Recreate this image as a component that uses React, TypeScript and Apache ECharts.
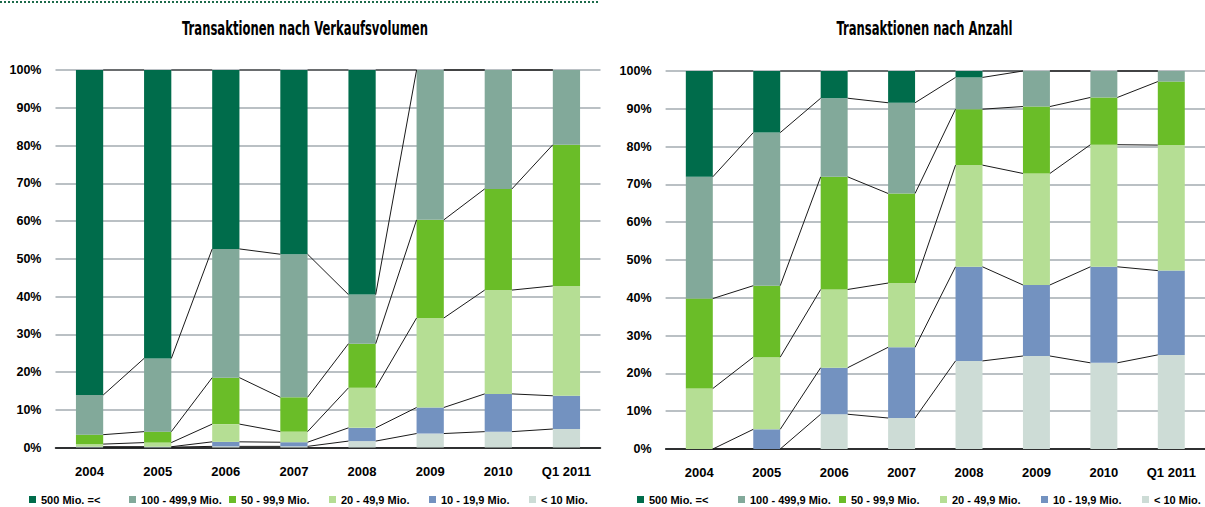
import React, { useEffect, useRef } from "react";
import * as echarts from "echarts";

// Categories and size classes
const years = ["2004", "2005", "2006", "2007", "2008", "2009", "2010", "Q1 2011"];
const classNames = [
  "500 Mio. =<",
  "100 - 499,9 Mio.",
  "50 - 99,9 Mio.",
  "20 - 49,9 Mio.",
  "10 - 19,9 Mio.",
  "< 10 Mio.",
];
const classColors = ["#006c4b", "#82a99a", "#6abd28", "#b5de94", "#7392c0", "#cddcd6"];
const yTicks = [0, 10, 20, 30, 40, 50, 60, 70, 80, 90, 100];

// Share of transaction volume per size class (%)
const vol500plus = [86.1, 76.4, 47.4, 48.8, 59.5, 0, 0, 0];
const vol100to499 = [10.5, 19.4, 34.1, 37.9, 13.0, 39.7, 31.5, 19.8];
const vol50to99 = [2.5, 2.9, 12.3, 9.1, 11.7, 26.0, 26.8, 37.4];
const vol20to49 = [0.7, 1.1, 4.7, 2.8, 10.6, 23.7, 27.5, 29.1];
const vol10to19 = [0.1, 0.1, 1.2, 1.1, 3.5, 6.9, 10.0, 8.8];
const volUnder10 = [0.1, 0.1, 0.3, 0.3, 1.7, 3.7, 4.2, 4.9];

// Share of number of transactions per size class (%)
const cnt500plus = [28.0, 16.3, 7.2, 8.4, 1.7, 0, 0, 0];
const cnt100to499 = [32.2, 40.5, 20.8, 24.0, 8.4, 9.4, 7.0, 2.8];
const cnt50to99 = [23.8, 18.9, 29.8, 23.7, 14.8, 17.7, 12.5, 16.8];
const cnt20to49 = [16.0, 19.1, 20.7, 17.0, 26.9, 29.5, 32.3, 33.2];
const cnt10to19 = [0, 5.2, 12.3, 18.7, 24.9, 18.8, 25.4, 22.3];
const cntUnder10 = [0, 0, 9.2, 8.2, 23.3, 24.6, 22.8, 24.9];

const FONT = "'Liberation Sans', Arial, sans-serif";
const TITLE_FONT = "'DejaVu Sans Condensed', 'DejaVu Sans', sans-serif";

// stacking order: bottom -> top
const volumeStack = [volUnder10, vol10to19, vol20to49, vol50to99, vol100to499, vol500plus];
const countStack = [cntUnder10, cnt10to19, cnt20to49, cnt50to99, cnt100to499, cnt500plus];

function barSeries(stack: number[][], gridIdx: number) {
  return stack.map((values, k) => {
    const cls = classNames.length - 1 - k;
    return {
      type: "bar",
      name: classNames[cls],
      xAxisIndex: gridIdx,
      yAxisIndex: gridIdx,
      stack: "s" + gridIdx,
      barWidth: "40%",
      itemStyle: { color: classColors[cls] },
      data: values,
      z: 2,
    };
  });
}

// Series lines joining the top edge of each segment between neighbouring bars
function connectorSeries(stack: number[][], gridIdx: number) {
  const rows: number[][] = [];
  const cum = years.map((_, i) => {
    let s = 0;
    return stack.map((v) => (s += v[i]));
  });
  for (let i = 0; i < years.length - 1; i++) {
    for (let k = 0; k < stack.length; k++) {
      rows.push([i, cum[i][k], cum[i + 1][k]]);
    }
  }
  return {
    type: "custom",
    xAxisIndex: gridIdx,
    yAxisIndex: gridIdx,
    silent: true,
    z: 4,
    encode: { x: 0, y: [1, 2] },
    data: rows,
    renderItem: (params: any, api: any) => {
      const i = api.value(0);
      const p1 = api.coord([i, api.value(1)]);
      const p2 = api.coord([i + 1, api.value(2)]);
      const half = api.size([1, 0])[0] * 0.2;
      return {
        type: "line",
        shape: { x1: p1[0] + half, y1: p1[1], x2: p2[0] - half, y2: p2[1] },
        style: { stroke: "#1a1a1a", lineWidth: 1 },
      };
    },
  };
}

function xAxis(gridIndex: number) {
  return {
    type: "category",
    gridIndex,
    data: years,
    axisTick: { show: false },
    axisLine: { show: true, lineStyle: { color: "#000", width: 1.5 } },
    axisLabel: {
      interval: 0,
      fontFamily: FONT,
      fontWeight: "bold",
      fontSize: 13,
      color: "#000",
      margin: 17,
    },
  };
}

function yAxis(gridIndex: number) {
  return {
    type: "value",
    gridIndex,
    min: 0,
    max: 100,
    interval: 10,
    axisLine: { show: false },
    axisTick: { show: false },
    splitLine: { lineStyle: { color: "#a3abb1", width: 1.5 } },
    axisLabel: {
      fontFamily: FONT,
      fontWeight: "bold",
      fontSize: 12.5,
      color: "#000",
      margin: 14,
      formatter: (v: number) => (yTicks.includes(v) ? v + "%" : ""),
    },
  };
}

// Each legend entry takes a fixed slot: icon 7 + gap 5 + text + itemGap 4
function legend(left: number, slot: number) {
  return {
    left,
    top: 492.5,
    width: 640,
    padding: 0,
    orient: "horizontal",
    icon: "rect",
    itemWidth: 7,
    itemHeight: 7,
    itemGap: 4,
    selectedMode: false,
    data: classNames,
    textStyle: {
      fontFamily: FONT,
      fontWeight: "bold",
      fontSize: 11,
      color: "#000",
      width: slot - 16,
      overflow: "none",
      lineHeight: 14,
    },
  };
}

function title(x: number, text: string) {
  return {
    type: "text",
    x,
    y: 29,
    scaleX: 0.68,
    style: {
      text,
      align: "center",
      verticalAlign: "middle",
      fontFamily: TITLE_FONT,
      fontWeight: "bold",
      fontSize: 19,
      fill: "#000",
    },
  };
}

export default function App() {
  const ref = useRef<HTMLDivElement>(null);

  useEffect(() => {
    if (!ref.current) return;
    const chart = echarts.init(ref.current, undefined, { renderer: "svg" });
    chart.setOption({
      animation: false,
      backgroundColor: "#fff",
      grid: [
        { left: 55.5, top: 70, width: 545, height: 377.5 },
        { left: 665.6, top: 71, width: 550.4, height: 378 },
      ],
      xAxis: [xAxis(0), xAxis(1)],
      yAxis: [yAxis(0), yAxis(1)],
      legend: [legend(29, 100), legend(637, 101)],
      graphic: [
        {
          type: "line",
          shape: { x1: 0, y1: 2, x2: 600, y2: 2 },
          style: { stroke: "#1d6b4b", lineWidth: 2, lineDash: [2, 2] },
        },
        title(305, "Transaktionen nach Verkaufsvolumen"),
        title(924.5, "Transaktionen nach Anzahl"),
      ],
      series: [
        ...barSeries(volumeStack, 0),
        ...barSeries(countStack, 1),
        connectorSeries(volumeStack, 0),
        connectorSeries(countStack, 1),
      ],
    });
    return () => chart.dispose();
  }, []);

  return (
    <div
      ref={ref}
      style={{ position: "fixed", left: 0, top: 0, width: 1205, height: 507, background: "#fff" }}
    />
  );
}
